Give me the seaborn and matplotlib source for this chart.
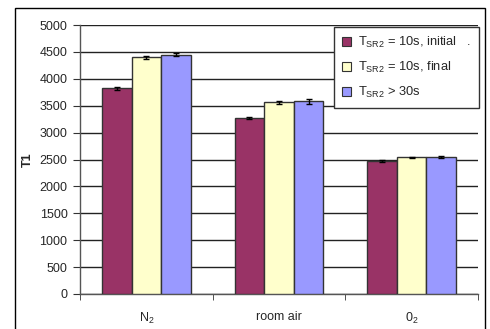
import matplotlib
matplotlib.use("Agg")
import matplotlib.pyplot as plt
import matplotlib.patches as mpatches
import seaborn as sns
import pandas as pd
import numpy as np

# values
gases = ["N$_2$", "room air", "0$_2$"]
seriesNames = [r"T$_{\mathrm{SR2}}$ = 10s, initial   .",
               r"T$_{\mathrm{SR2}}$ = 10s, final",
               r"T$_{\mathrm{SR2}}$ > 30s"]
initial = [3820, 3270, 2470]
final = [4400, 3560, 2540]
longer = [4450, 3580, 2545]
errInitial = [20, 20, 20]
errFinal = [30, 25, 15]
errLonger = [30, 40, 15]
colors = ["#993366", "#FFFFCC", "#9999FF"]
yTicks = list(range(0, 5001, 500))

sns.set_style("white")
plt.rcParams["font.family"] = ["Liberation Sans", "DejaVu Sans"]
plt.rcParams["mathtext.fontset"] = "custom"
plt.rcParams["mathtext.rm"] = "Liberation Sans"
plt.rcParams["mathtext.it"] = "Liberation Sans:italic"
plt.rcParams["mathtext.bf"] = "Liberation Sans:bold"

rows = []
for values, errs, name in zip([initial, final, longer], [errInitial, errFinal, errLonger], seriesNames):
    for gas, v, e in zip(gases, values, errs):
        rows.append({"gas": gas, "T1": v, "err": e, "series": name})
df = pd.DataFrame(rows)

fig = plt.figure(figsize=(4.9, 3.29), dpi=100)
ax = fig.add_axes([80 / 490, 1 - 294 / 329, 398 / 490, 269 / 329])

sns.barplot(data=df, x="gas", y="T1", hue="series", palette=colors, saturation=1,
            width=0.67, errorbar=None, edgecolor="#333333", linewidth=1,
            legend=False, ax=ax, zorder=3)

# error bars at bar centres
for patch, (_, row) in zip(ax.patches, df.iterrows()):
    cx = patch.get_x() + patch.get_width() / 2
    ax.errorbar(cx, row["T1"], yerr=row["err"], color="black", capsize=2.5,
                elinewidth=1, capthick=1, zorder=4)

ax.set_ylim(0, 5000)
ax.set_xlim(-0.5, 2.5)
ax.set_yticks(yTicks)
ax.set_yticklabels([str(t) for t in yTicks], fontsize=9)
ax.yaxis.grid(True, color="#222222", linewidth=1)
ax.set_axisbelow(True)
ax.set_xticks(range(len(gases)))
ax.set_xticklabels(gases, fontsize=9)
ax.set_xticks([-0.5, 0.5, 1.5, 2.5], minor=True)
ax.tick_params(axis="x", which="major", length=0, pad=12)
ax.tick_params(axis="x", which="minor", length=4, color="#333333", direction="out", bottom=True)
ax.tick_params(axis="y", length=5, color="#333333", direction="out", left=True, pad=4)
ax.set_xlabel("")
ax.set_ylabel("T1", fontsize=9, fontweight="bold", labelpad=4)
for s in ["top", "right"]:
    ax.spines[s].set_visible(False)
for s in ["left", "bottom"]:
    ax.spines[s].set_color("#555555")
    ax.spines[s].set_linewidth(1)

handles = [mpatches.Patch(facecolor=c, edgecolor="#333333", linewidth=0.8) for c in colors]
leg = fig.legend(handles, seriesNames, loc="upper right",
                 bbox_to_anchor=(479 / 490, 1 - 27 / 329), bbox_transform=fig.transFigure,
                 fontsize=9.3, frameon=True, fancybox=False, framealpha=1,
                 edgecolor="#333333", handlelength=0.7, handleheight=0.7,
                 handletextpad=0.5, labelspacing=0.75, borderpad=0.65, borderaxespad=0)
leg.get_frame().set_linewidth(1)

# outer chart frame
frame = mpatches.Rectangle((15 / 490, -0.1), 470 / 490, 1 - 8 / 329 + 0.1,
                           transform=fig.transFigure, fill=False,
                           edgecolor="black", linewidth=1, clip_on=False)
fig.patches.append(frame)

fig.savefig("out.png", dpi=100)
